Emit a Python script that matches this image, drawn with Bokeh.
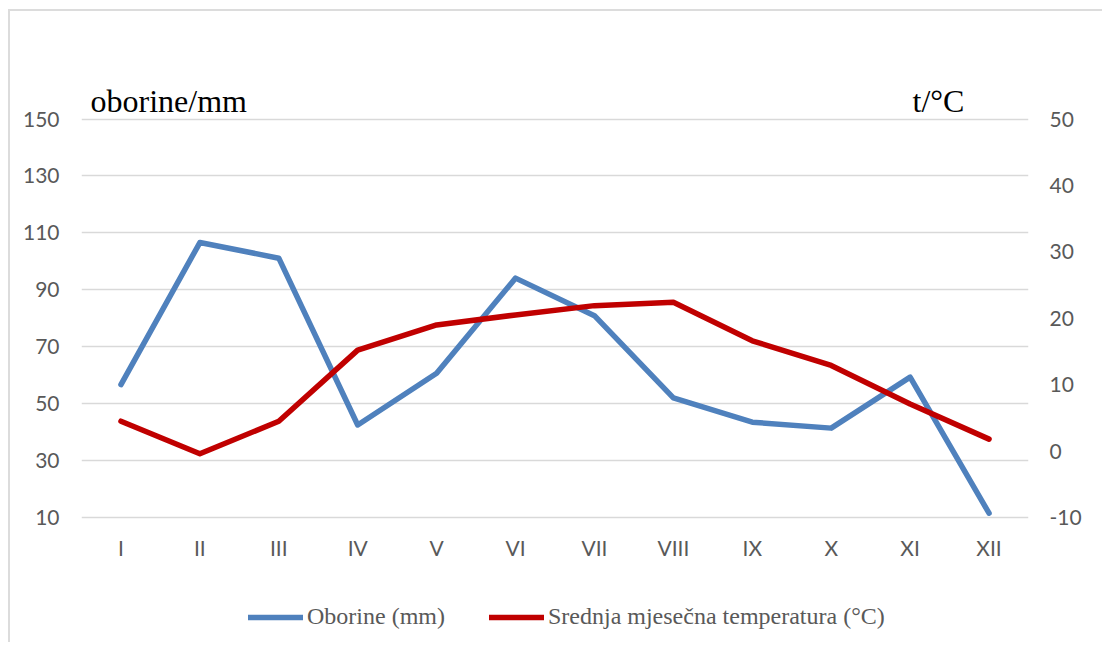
from bokeh.plotting import figure
from bokeh.models import (Range1d, LinearAxis, FixedTicker, Legend, LegendItem, Label,
                          FactorRange, InlineStyleSheet)
from bokeh.embed import file_html
from bokeh.resources import INLINE

months = ["I", "II", "III", "IV", "V", "VI", "VII", "VIII", "IX", "X", "XI", "XII"]
precip = [56.7, 106.6, 101.1, 42.5, 60.7, 94.1, 80.9, 52.0, 43.5, 41.4, 59.3, 11.5]
temp = [4.5, -0.4, 4.5, 15.2, 19.0, 20.5, 21.9, 22.4, 16.6, 12.9, 7.1, 1.8]
left_ticks = [10, 30, 50, 70, 90, 110, 130, 150]
right_ticks = [-10, 0, 10, 20, 30, 40, 50]

TICK_FONT = "Lato"
SERIF = "Liberation Serif"
TOP_PAD = 24.77     # room above the axes (left-axis units) for the unit captions
BOTTOM_PAD = 43.21  # room below the axes for tick labels and legend
SCALE = 60 / 140    # right-axis units per left-axis unit

p = figure(width=1102, height=642,
           x_range=FactorRange(*months),
           y_range=Range1d(10 - BOTTOM_PAD, 150 + TOP_PAD),
           output_backend="svg", toolbar_location=None, title=None,
           min_border_left=81, min_border_right=74,
           min_border_top=48, min_border_bottom=2)
p.extra_y_ranges = {"temp": Range1d(-10 - BOTTOM_PAD * SCALE, 50 + TOP_PAD * SCALE)}
p.stylesheets = [InlineStyleSheet(css=""":host {
  background-image: linear-gradient(#dcdcdc, #dcdcdc), linear-gradient(#dcdcdc, #dcdcdc);
  background-repeat: no-repeat;
  background-position: 8px 9px, 8px 9px;
  background-size: 2px 100%, 100% 2px;
}""")]
p.outline_line_color = None
p.background_fill_alpha = 0
p.border_fill_alpha = 0

# axes
p.yaxis.ticker = FixedTicker(ticks=left_ticks)
right_axis = LinearAxis(y_range_name="temp", ticker=FixedTicker(ticks=right_ticks))
right_axis.major_label_overrides = {t: str(t) for t in right_ticks}
p.add_layout(right_axis, "right")
p.xaxis.fixed_location = 10

for ax in [p.xaxis[0], p.yaxis[0], right_axis]:
    ax.axis_line_color = None
    ax.major_tick_line_color = None
    ax.minor_tick_line_color = None
    ax.major_tick_out = 0
    ax.major_tick_in = 0
    ax.minor_tick_out = 0
    ax.major_label_text_font = TICK_FONT
    ax.major_label_text_font_size = "21px"
    ax.major_label_text_color = "#595959"
    ax.major_label_standoff = 22
p.xaxis.major_label_standoff = 17
right_axis.major_label_standoff = 21

p.xgrid.grid_line_color = None
p.ygrid.ticker = FixedTicker(ticks=left_ticks)
p.ygrid.grid_line_color = "#d9d9d9"
p.ygrid.grid_line_width = 1.4

r1 = p.line(months, precip, line_color="#4F81BD", line_width=5.5,
            line_cap="round", line_join="round")
r2 = p.line(months, temp, line_color="#C00000", line_width=5.5,
            line_cap="round", line_join="round", y_range_name="temp")

legend = Legend(items=[LegendItem(label="Oborine (mm)", renderers=[r1]),
                       LegendItem(label="Srednja mjesečna temperatura (°C)", renderers=[r2])],
                orientation="horizontal", location=(167, 10),
                label_text_font=SERIF, label_text_font_size="24px",
                label_text_color="#595959", glyph_width=55, glyph_height=24,
                label_height=24, label_standoff=4, spacing=44, padding=0, margin=0,
                border_line_color=None, background_fill_alpha=0)
p.add_layout(legend)

p.add_layout(Label(x=0.114, y=156.5, text="oborine/mm", text_font=SERIF,
                   text_font_size="32px", text_color="black", text_baseline="alphabetic"))
p.add_layout(Label(x=10.53, y=156.5, text="t/°C", text_font=SERIF,
                   text_font_size="32px", text_color="black", text_baseline="alphabetic"))

open("out.html", "w").write(file_html(p, INLINE))
